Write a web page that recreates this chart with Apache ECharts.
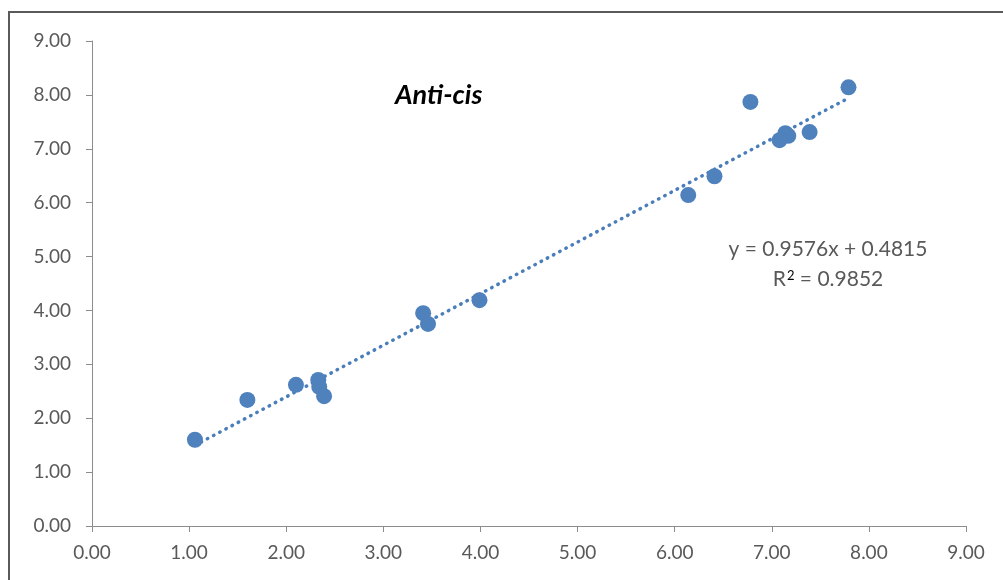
<!DOCTYPE html>
<html><head><meta charset="utf-8">
<script src="https://cdn.jsdelivr.net/npm/echarts@6/dist/echarts.min.js"></script>
<style>html,body{margin:0;padding:0;background:#fff}#c{width:1003px;height:580px}</style>
</head><body><div id="c"></div>
<script>
const xValues = [1.06, 1.60, 2.10, 2.33, 2.34, 2.39, 3.41, 3.46, 3.99, 6.14, 6.41, 6.78, 7.08, 7.14, 7.17, 7.39, 7.79];
const yValues = [1.60, 2.34, 2.62, 2.71, 2.58, 2.41, 3.95, 3.75, 4.19, 6.14, 6.49, 7.87, 7.16, 7.29, 7.24, 7.31, 8.14];
const slope = 0.9576, intercept = 0.4815;
const equationLine1 = 'y = 0.9576x + 0.4815';
const equationLine2 = ['R', '2', ' = 0.9852'];
const title = 'Anti-cis';

const pts = xValues.map((x, i) => [x, yValues[i]]);
const xmin = Math.min(...xValues), xmax = Math.max(...xValues);
const trend = [[xmin, slope * xmin + intercept], [xmax, slope * xmax + intercept]];

const chart = echarts.init(document.getElementById('c'));
const axisCommon = {
  min: 0, max: 9, interval: 1,
  axisLine: {show: true, onZero: false, lineStyle: {color: '#8c8c8c', width: 1}},
  axisTick: {show: true, length: 6, lineStyle: {color: '#8c8c8c'}},
  splitLine: {show: false},
  axisLabel: {color: '#595959', fontSize: 19, fontFamily: 'Lato', formatter: v => v.toFixed(2)}
};
chart.setOption({
  animation: false,
  grid: {left: 92, right: 37, top: 41, bottom: 54},
  xAxis: Object.assign({type: 'value'}, axisCommon, {axisLabel: Object.assign({}, axisCommon.axisLabel, {margin: 17})}),
  yAxis: Object.assign({type: 'value'}, axisCommon, {axisLabel: Object.assign({}, axisCommon.axisLabel, {margin: 21})}),
  graphic: [
    {type: 'rect', shape: {x: 9, y: 12, width: 1100, height: 700}, style: {fill: 'none', stroke: '#5a5a5a', lineWidth: 2}, silent: true},
    {type: 'text', left: 395, top: 82, style: {text: title, font: 'italic bold 27px Lato', fill: '#000'}},
    {type: 'text', x: 828, y: 239, style: {text: equationLine1, font: '21px Lato', fill: '#595959', align: 'center'}},
    {type: 'text', x: 828, y: 269, style: {
      text: '{a|' + equationLine2[0] + '}{s|' + equationLine2[1] + '}{a|' + equationLine2[2] + '}',
      align: 'center',
      rich: {a: {font: '21px Lato', fill: '#595959', color: '#595959'}, s: {font: '13px Lato', color: '#595959', verticalAlign: 'top', padding: [0, 0, 8, 1]}}
    }}
  ],
  series: [
    {type: 'line', data: trend, symbol: 'none', lineStyle: {color: '#4a7ebb', width: 3.5, type: [0.5, 6.5], cap: 'round'}, z: 1},
    {type: 'scatter', data: pts, symbol: 'circle', symbolSize: 16, itemStyle: {color: '#4f81bd', opacity: 1}, z: 2}
  ]
});
</script></body></html>
